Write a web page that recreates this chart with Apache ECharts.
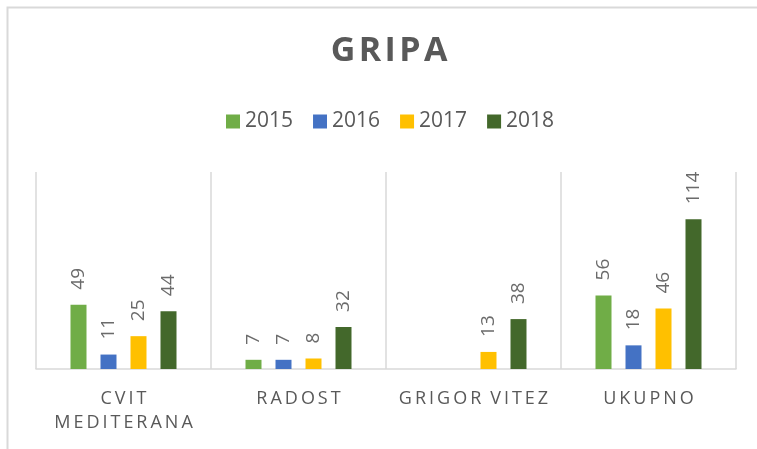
<!DOCTYPE html>
<html>
<head>
<meta charset="utf-8">
<script src="https://cdn.jsdelivr.net/npm/echarts@6/dist/echarts.min.js"></script>
<style>
  html, body { margin: 0; padding: 0; background: #fff; }
  #chart { width: 757px; height: 449px; }
</style>
</head>
<body>
<div id="chart"></div>
<script>
// podaci
var naslov = 'GRIPA';
var kategorije = ['CVIT MEDITERANA', 'RADOST', 'GRIGOR VITEZ', 'UKUPNO'];
var godine = ['2015', '2016', '2017', '2018'];
var d2015 = [49, 7, null, 56];
var d2016 = [11, 7, null, 18];
var d2017 = [25, 8, 13, 46];
var d2018 = [44, 32, 38, 114];
var boje = ['#70AD47', '#4472C4', '#FFC000', '#43682B'];

// razmak izmedu slova (echarts nema letterSpacing)
function razmakni(s, sp) {
  return s.split('').join(sp);
}

var chart = echarts.init(document.getElementById('chart'));
var nizovi = [d2015, d2016, d2017, d2018];

var option = {
  backgroundColor: '#ffffff',
  animation: false,
  textStyle: { fontFamily: 'Open Sans' },
  title: {
    text: razmakni(naslov, '\u200A'),
    left: 384,
    textAlign: 'center',
    top: 29,
    textStyle: { fontSize: 34, fontWeight: 'bold', color: '#595959', fontFamily: 'Open Sans' }
  },
  legend: {
    data: godine,
    top: 106,
    left: 221,
    itemWidth: 14,
    itemHeight: 14,
    itemGap: 20,
    icon: 'rect',
    textStyle: { fontSize: 21, color: '#595959' }
  },
  graphic: [{
    type: 'rect',
    left: 5,
    top: 5,
    shape: { width: 800, height: 500 },
    style: { fill: 'none', stroke: '#d9d9d9', lineWidth: 2 },
    silent: true
  }],
  grid: { left: 36, right: 21, top: 172, bottom: 80 },
  xAxis: {
    type: 'category',
    data: kategorije,
    axisLine: { lineStyle: { color: '#d9d9d9', width: 1.5 } },
    axisTick: { show: false },
    splitLine: { show: true, interval: 0, lineStyle: { color: '#d9d9d9', width: 1.5 } },
    axisLabel: {
      interval: 0,
      color: '#595959',
      fontSize: 18,
      lineHeight: 24,
      margin: 18,
      formatter: function (v) {
        var rijeci = v.split(' ').map(function (w) { return razmakni(w, '\u2009'); });
        return rijeci.join(v.length > 12 ? '\n' : '\u2009\u2009\u2009');
      }
    }
  },
  yAxis: {
    type: 'value',
    min: 0,
    max: 150,
    show: false,
    splitLine: { show: false }
  },
  series: godine.map(function (g, i) {
    return {
      name: g,
      type: 'bar',
      data: nizovi[i],
      barWidth: 16,
      barGap: '87.5%',
      itemStyle: { color: boje[i] },
      label: {
        show: true,
        position: 'top',
        rotate: 90,
        align: 'left',
        verticalAlign: 'middle',
        distance: 15,
        fontSize: 19,
        color: '#6b6b6b'
      }
    };
  })
};

chart.setOption(option);
</script>
</body>
</html>
